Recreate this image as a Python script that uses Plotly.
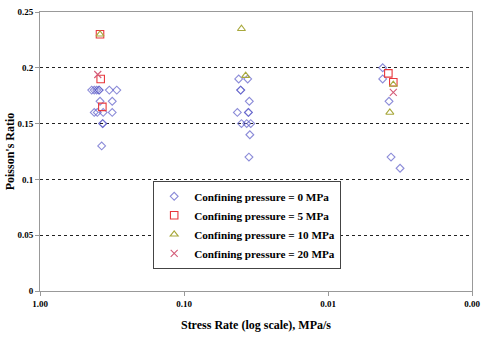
import plotly.graph_objects as go

# ---- data ----
x_0mpa = [0.4375, 0.42, 0.404, 0.389, 0.389, 0.33, 0.293,
          0.383, 0.315,
          0.42, 0.40, 0.364, 0.315,
          0.367, 0.367,
          0.373,
          0.0417, 0.0361,
          0.0404, 0.0404,
          0.0352,
          0.0426, 0.0357, 0.0357,
          0.0399, 0.0367, 0.0344,
          0.0349,
          0.0354,
          0.00417, 0.00417, 0.00377, 0.00365, 0.00316]
y_0mpa = [0.18, 0.18, 0.18, 0.18, 0.18, 0.18, 0.18,
          0.17, 0.17,
          0.16, 0.16, 0.16, 0.16,
          0.15, 0.15,
          0.13,
          0.19, 0.19,
          0.18, 0.18,
          0.17,
          0.16, 0.16, 0.16,
          0.15, 0.15, 0.15,
          0.14,
          0.12,
          0.20, 0.19, 0.17, 0.12, 0.11]

x_5mpa = [0.383, 0.379, 0.369, 0.00381, 0.00352]
y_5mpa = [0.23, 0.19, 0.165, 0.195, 0.187]

x_10mpa = [0.383, 0.0399, 0.0373, 0.00352, 0.00372]
y_10mpa = [0.23, 0.235, 0.193, 0.185, 0.16]

x_20mpa = [0.397, 0.00352]
y_20mpa = [0.194, 0.178]

x_tickvals = [1, 0.1, 0.01, 0.001]
x_ticktext = ["1.00", "0.10", "0.01", "0.00"]
y_tickvals = [0, 0.05, 0.1, 0.15, 0.2, 0.25]
y_ticktext = ["0", "0.05", "0.1", "0.15", "0.2", "0.25"]

SERIF = "Liberation Serif, Times New Roman, serif"

fig = go.Figure()
fig.add_trace(go.Scatter(
    x=x_0mpa, y=y_0mpa, mode="markers", name="Confining pressure = 0 MPa",
    marker=dict(symbol="diamond-open", size=6, color="#5a5ac8", opacity=0.7,
                line=dict(width=1.1))))
fig.add_trace(go.Scatter(
    x=x_5mpa, y=y_5mpa, mode="markers", name="Confining pressure = 5 MPa",
    marker=dict(symbol="square-open", size=7.5, color="#e8383d",
                line=dict(width=1.1))))
fig.add_trace(go.Scatter(
    x=x_10mpa, y=y_10mpa, mode="markers", name="Confining pressure = 10 MPa",
    marker=dict(symbol="triangle-up-open", size=7, color="#a8a83c",
                line=dict(width=1.1))))
fig.add_trace(go.Scatter(
    x=x_20mpa, y=y_20mpa, mode="markers", name="Confining pressure = 20 MPa",
    marker=dict(symbol="x-thin-open", size=7, color="#d45c78",
                line=dict(width=1.1))))

fig.update_layout(
    width=500, height=343,
    margin=dict(l=40, r=28, t=12, b=52, autoexpand=False),
    paper_bgcolor="white", plot_bgcolor="white",
    font=dict(family=SERIF, size=9, color="black"),
    legend=dict(x=0.262, y=0.395, xanchor="left", yanchor="top",
                bgcolor="white", bordercolor="#444", borderwidth=1,
                font=dict(family=SERIF, size=11.2, color="black", weight="bold"),
                tracegroupgap=0, itemwidth=30),
    showlegend=True,
)
fig.update_xaxes(
    type="log", range=[0, -3], automargin=False,
    tickvals=x_tickvals, ticktext=x_ticktext,
    tickfont=dict(family=SERIF, size=9, weight="bold"),
    showgrid=False, zeroline=False,
    showline=True, linecolor="#999", linewidth=1, mirror=True,
    ticks="outside", ticklen=4, tickcolor="#999",
    title=dict(text="Stress Rate (log scale), MPa/s",
               font=dict(family=SERIF, size=12, weight="bold"), standoff=12),
)
fig.update_yaxes(
    range=[0, 0.25], automargin=False,
    tickvals=y_tickvals, ticktext=y_ticktext,
    tickfont=dict(family=SERIF, size=9, weight="bold"),
    showgrid=True, gridcolor="#222", griddash="dot", gridwidth=1,
    zeroline=False,
    showline=True, linecolor="#999", linewidth=1, mirror=True,
    ticks="outside", ticklen=4, tickcolor="#999",
    title=dict(text="Poisson's Ratio",
               font=dict(family=SERIF, size=12, weight="bold"), standoff=0),
)

fig.write_html("out.html")
